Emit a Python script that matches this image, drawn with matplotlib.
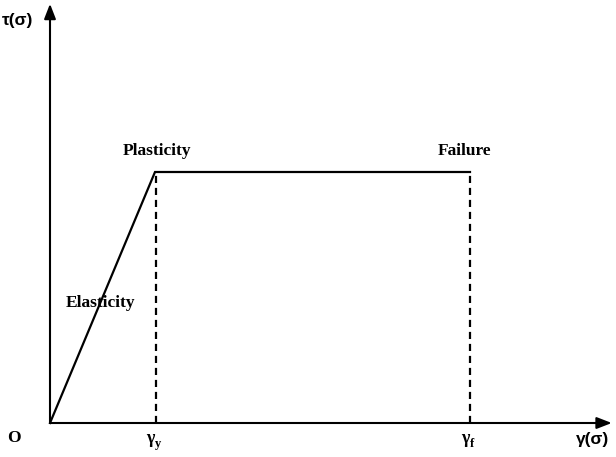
import matplotlib
matplotlib.use("Agg")
import matplotlib.pyplot as plt

plt.rcParams['font.family'] = ['Liberation Serif', 'DejaVu Serif']

# Idealised elastic-perfectly-plastic curve (strain, stress)
strain = [0.0, 1.0, 4.0]
stress = [0.0, 1.0, 1.0]
gamma_y = 1.0
gamma_f = 4.0
x_end = 5.35
y_end = 1.67


def main():
    fig = plt.figure(figsize=(6.16, 4.57), dpi=100)
    ax = fig.add_axes([0, 0, 1, 1])
    ax.set_xlim(-50 / 105, 566 / 105)
    ax.set_ylim(-34 / 251, 423 / 251)
    ax.axis('off')

    # axes with arrow heads
    arrow = dict(arrowstyle='-|>,head_length=0.9,head_width=0.35',
                 color='black', lw=1.5, shrinkA=0, shrinkB=0)
    ax.annotate('', xy=(x_end, 0), xytext=(0, 0), arrowprops=arrow)
    ax.annotate('', xy=(0, y_end), xytext=(0, 0), arrowprops=arrow)

    ax.plot(strain, stress, color='black', lw=1.6, solid_joinstyle='miter')
    dash = (0, (3.2, 2.2))
    ax.plot([gamma_y + 0.01, gamma_y + 0.01], [0, stress[1]], color='black',
            lw=1.6, linestyle=dash)
    ax.plot([gamma_f, gamma_f], [0, stress[2]], color='black',
            lw=1.6, linestyle=dash)

    bold = dict(fontsize=12.5, fontweight='bold', ha='center', va='center')
    sub = dict(fontsize=9, fontweight='bold', ha='left', va='center')
    greek = dict(fontsize=12.5, fontweight='bold', ha='center', va='center',
                 family=['Liberation Sans', 'DejaVu Sans'])
    ax.text(-0.305, 1.605, 'τ(σ)', **greek)
    ax.text(-0.34, -0.06, 'O', **bold)
    ax.text(gamma_y - 0.04, -0.06, 'γ', fontsize=13, fontweight='bold',
            ha='center', va='center')
    ax.text(gamma_y + 0.0, -0.085, 'y', **sub)
    ax.text(gamma_f - 0.04, -0.06, 'γ', fontsize=13, fontweight='bold',
            ha='center', va='center')
    ax.text(gamma_f + 0.0, -0.085, 'f', **sub)
    ax.text(5.17, -0.067, 'γ(σ)', **greek)
    ax.text(gamma_y + 0.02, 1.085, 'Plasticity', **bold)
    ax.text(3.95, 1.085, 'Failure', **bold)
    ax.text(0.48, 0.48, 'Elasticity', **bold)

    fig.savefig('out.png', dpi=100)


if __name__ == "__main__":
    main()
